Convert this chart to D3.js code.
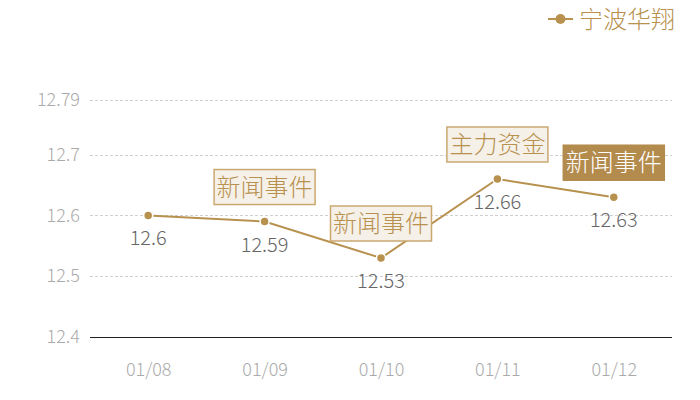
<!DOCTYPE html>
<html>
<head>
<meta charset="utf-8">
<script src="https://cdn.jsdelivr.net/npm/d3@7"></script>
<style>
  body { margin: 0; background: #fff; }
  text { font-family: "Noto Sans CJK SC", "Noto Sans", sans-serif; font-weight: 300; }
</style>
</head>
<body>
<div id="vis"></div>
<script>
const FRAME_WIDTH = 700;
const FRAME_HEIGHT = 400;
const MARGINS = {left: 90, right: 28, top: 100, bottom: 63};

// data
const dates = ["01/08", "01/09", "01/10", "01/11", "01/12"];
const prices = [12.6, 12.59, 12.53, 12.66, 12.63];
const yTicks = [12.4, 12.5, 12.6, 12.7, 12.79];
const events = [null, "新闻事件", "新闻事件", "主力资金", "新闻事件"];
const eventFilled = [false, false, false, false, true];
const seriesName = "宁波华翔";

const GOLD = "#b8914f";

const VIS_WIDTH = FRAME_WIDTH - MARGINS.left - MARGINS.right;
const VIS_HEIGHT = FRAME_HEIGHT - MARGINS.top - MARGINS.bottom;

const svg = d3.select("#vis")
  .append("svg")
    .attr("width", FRAME_WIDTH)
    .attr("height", FRAME_HEIGHT);

const X_SCALE = d3.scalePoint()
  .domain(dates)
  .range([0, VIS_WIDTH])
  .padding(0.5);

const Y_SCALE = d3.scaleLinear()
  .domain([12.4, 12.79])
  .range([VIS_HEIGHT, 0]);

const g = svg.append("g")
  .attr("transform", "translate(" + MARGINS.left + "," + MARGINS.top + ")");

// grid lines
g.selectAll(".grid")
  .data(yTicks.slice(1))
  .enter()
  .append("line")
    .attr("x1", 0)
    .attr("x2", VIS_WIDTH)
    .attr("y1", d => Math.round(Y_SCALE(d)) + 0.5)
    .attr("y2", d => Math.round(Y_SCALE(d)) + 0.5)
    .attr("stroke", "#d0d0d0")
    .attr("stroke-dasharray", "3,2");

// y axis
const yAxis = g.append("g")
  .call(d3.axisLeft(Y_SCALE).tickValues(yTicks).tickSize(0).tickPadding(10)
        .tickFormat(d => String(d)));
yAxis.select(".domain").remove();
yAxis.selectAll("text")
  .attr("font-size", "18px")
  .attr("fill", "#aaaaaa")
  .style("font-family", "'Noto Sans CJK SC', sans-serif");

// x axis
const xAxis = g.append("g")
  .attr("transform", "translate(0," + (Math.round(VIS_HEIGHT) + 0.5) + ")")
  .call(d3.axisBottom(X_SCALE).tickSize(0).tickPadding(26));
xAxis.select(".domain")
  .attr("stroke", "#222")
  .attr("d", "M0,0H" + VIS_WIDTH);
xAxis.selectAll("text")
  .attr("font-size", "18px")
  .attr("fill", "#aaaaaa")
  .style("font-family", "'Noto Sans CJK SC', sans-serif");

// line
const line = d3.line()
  .x((d, i) => X_SCALE(dates[i]))
  .y(d => Y_SCALE(d));

g.append("path")
  .datum(prices)
  .attr("d", line)
  .attr("fill", "none")
  .attr("stroke", GOLD)
  .attr("stroke-width", 2);

g.selectAll(".pt")
  .data(prices)
  .enter()
  .append("circle")
    .attr("cx", (d, i) => X_SCALE(dates[i]))
    .attr("cy", d => Y_SCALE(d))
    .attr("r", 4.5)
    .attr("fill", GOLD)
    .attr("stroke", "#fff")
    .attr("stroke-width", 1.5);

// value labels
g.selectAll(".val")
  .data(prices)
  .enter()
  .append("text")
    .attr("x", (d, i) => X_SCALE(dates[i]))
    .attr("y", d => Y_SCALE(d) + 30)
    .attr("text-anchor", "middle")
    .attr("font-size", "20px")
    .attr("font-weight", 400)
    .attr("fill", "#666666")
    .text(d => String(d));

// event markers
const boxW = 101, boxH = 35;
const ev = g.selectAll(".ev")
  .data(prices.map((d, i) => ({v: d, i: i})).filter(d => events[d.i]))
  .enter()
  .append("g")
    .attr("transform", d => "translate(" + X_SCALE(dates[d.i]) + "," + (Y_SCALE(d.v) - 17) + ")");

ev.append("rect")
  .attr("x", -boxW / 2)
  .attr("y", -boxH)
  .attr("width", boxW)
  .attr("height", boxH)
  .attr("fill", d => eventFilled[d.i] ? "#b38b4d" : "#f5f0e8")
  .attr("stroke", d => eventFilled[d.i] ? "#b38b4d" : "#c9a870")
  .attr("stroke-width", 1.5);

ev.append("text")
  .attr("x", 0)
  .attr("y", -boxH / 2 + 8.5)
  .attr("text-anchor", "middle")
  .attr("font-size", "24px")
  .attr("fill", d => eventFilled[d.i] ? "#ffffff" : GOLD)
  .text(d => events[d.i]);

// legend
const legend = svg.append("g").attr("transform", "translate(548,19)");
legend.append("line")
  .attr("x1", 0).attr("x2", 25)
  .attr("stroke", GOLD).attr("stroke-width", 2);
legend.append("circle")
  .attr("cx", 12.5).attr("r", 5)
  .attr("fill", GOLD);
legend.append("text")
  .attr("x", 31)
  .attr("y", 9)
  .attr("font-size", "24px")
  .attr("fill", GOLD)
  .text(seriesName);
</script>
</body>
</html>
